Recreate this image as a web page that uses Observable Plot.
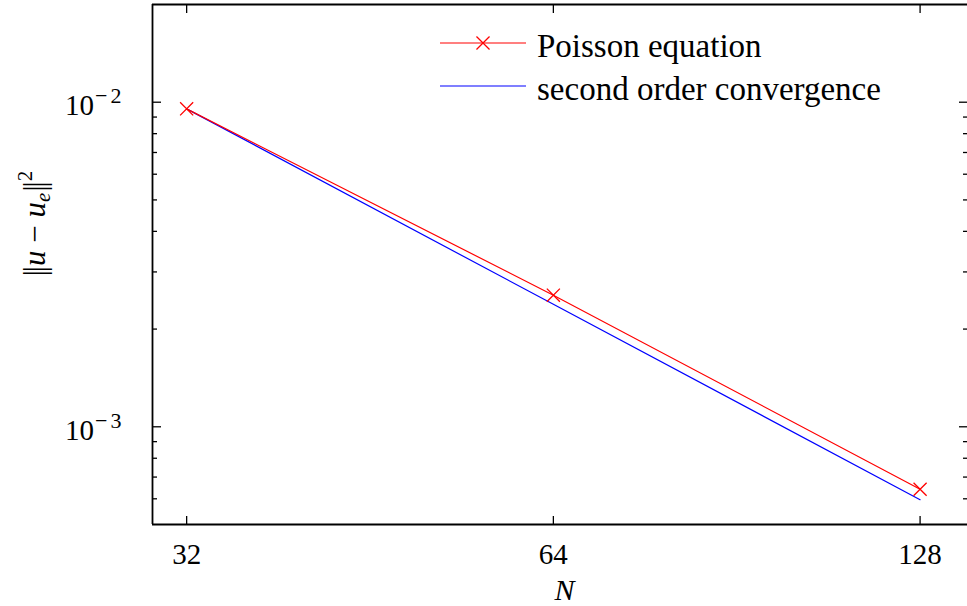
<!DOCTYPE html>
<html><head><meta charset="utf-8">
<script src="https://cdn.jsdelivr.net/npm/d3@7"></script>
<script src="https://cdn.jsdelivr.net/npm/@observablehq/plot@0.6"></script>
<style>body{margin:0;background:#fff} #chart svg{display:block}</style>
</head><body><div id="chart"></div>
<script>
const N = [32, 64, 128];
const poissonError = [0.00954, 0.002544, 0.000642];
const secondOrder = [0.00954, 0.002385, 0.000596];
const xTicks = [32, 64, 128];
const yMajorTicks = [1e-3, 1e-2];
const yMinorTicks = [6e-4, 7e-4, 8e-4, 9e-4, 2e-3, 3e-3, 4e-3, 5e-3, 6e-3, 7e-3, 8e-3, 9e-3];
const seriesNames = ["Poisson equation", "second order convergence"];
const seriesColors = ["#ff0000", "#0000ff"];
const xDomain = [30, 140];
const yDomain = [5e-4, 2e-2];

const poisson = N.map((n, i) => ({N: n, err: poissonError[i]}));
const second = N.map((n, i) => ({N: n, err: secondOrder[i]}));

const FONT = "'Liberation Serif', 'DejaVu Serif', serif";
const supFmt = d => "10^" + Math.round(Math.log10(d));

const plot = Plot.plot({
  width: 967, height: 606,
  marginLeft: 152, marginRight: 0, marginTop: 4, marginBottom: 82,
  style: {fontFamily: FONT, fontSize: "29px", color: "black", background: "white"},
  x: {type: "log", domain: xDomain},
  y: {type: "log", domain: yDomain},
  marks: [
    Plot.line(second, {x: "N", y: "err", stroke: seriesColors[1], strokeWidth: 1.2}),
    Plot.line(poisson, {x: "N", y: "err", stroke: seriesColors[0], strokeWidth: 1.2}),
    Plot.dot(poisson, {x: "N", y: "err", symbol: "times", r: 6, stroke: seriesColors[0], strokeWidth: 1.3}),
    // box (left, top, bottom)
    Plot.ruleX([xDomain[0]], {stroke: "black", strokeWidth: 1.8}),
    Plot.ruleY(yDomain, {stroke: "black", strokeWidth: 1.8}),
    // inward ticks
    Plot.axisX(xTicks, {anchor: "bottom", tickSize: -8, tickFormat: () => "", label: null, strokeWidth: 1.3}),
    Plot.axisX(xTicks, {anchor: "top", tickSize: -8, tickFormat: () => "", label: null, strokeWidth: 1.3}),
    Plot.axisY(yMajorTicks, {anchor: "left", tickSize: -9, tickFormat: () => "", label: null, strokeWidth: 1.3}),
    Plot.axisY(yMajorTicks, {anchor: "right", tickSize: -9, tickFormat: () => "", label: null, strokeWidth: 1.3}),
    Plot.axisY(yMinorTicks, {anchor: "left", tickSize: -5, tickFormat: () => "", label: null, strokeWidth: 1.3}),
    Plot.axisY(yMinorTicks, {anchor: "right", tickSize: -5, tickFormat: () => "", label: null, strokeWidth: 1.3}),
    // tick labels
    Plot.axisX(xTicks, {anchor: "bottom", tickSize: 0, tickPadding: 19, tickFormat: d => String(d), label: null, fontSize: 29}),
    Plot.axisY(yMajorTicks, {anchor: "left", tickSize: 0, tickPadding: 31, tickFormat: supFmt, label: null, fontSize: 29, dy: 4}),
    // x axis label
    Plot.text(["N"], {frameAnchor: "bottom", dy: 75, fontSize: 30, fontStyle: "italic", lineAnchor: "bottom", dx: 4.5})
  ]
});

const svg = d3.select(plot);
// superscript tick labels
svg.selectAll("text").filter(function() { return /^10\^-?\d+$/.test(this.textContent); }).each(function() {
  const exp = this.textContent.split("^")[1];
  const t = d3.select(this);
  t.text(null);
  t.append("tspan").text("10");
  t.append("tspan").attr("dy", -12).attr("dx", 1).attr("font-size", "22px").text("\u2212");
  t.append("tspan").attr("dx", 3).attr("font-size", "22px").text(exp.replace("-", ""));
});
// y axis label with math
const yl = svg.append("text")
  .attr("transform", "translate(45,223.5) rotate(-90)")
  .attr("text-anchor", "middle").attr("font-family", FONT).attr("font-size", "31px").attr("fill", "black");
yl.append("tspan").text("|");
yl.append("tspan").attr("dx", -2).text("|");
yl.append("tspan").attr("font-style", "italic").text("u");
yl.append("tspan").text(" \u2212 ");
yl.append("tspan").attr("font-style", "italic").text("u");
yl.append("tspan").attr("font-style", "italic").attr("font-size", "21px").attr("dy", 5).text("e");
yl.append("tspan").attr("dy", -5).attr("dx", 1).text("|");
yl.append("tspan").attr("dx", -2).text("|");
yl.append("tspan").attr("font-size", "21px").attr("dy", -13).text("2");
// legend
const lg = svg.append("g").attr("font-family", FONT).attr("font-size", "33px").attr("text-anchor", "start");
seriesNames.forEach((name, i) => {
  const y = 43 + i * 43;
  lg.append("line").attr("x1", 440).attr("x2", 526).attr("y1", y).attr("y2", y)
    .attr("stroke", seriesColors[i]).attr("stroke-width", 1.2);
  if (i === 0) {
    lg.append("path").attr("d", d3.symbol(d3.symbolTimes, Math.PI * 36)())
      .attr("transform", `translate(483,${y})`).attr("stroke", seriesColors[i]).attr("fill", "none").attr("stroke-width", 1.3);
  }
  lg.append("text").attr("x", 537).attr("y", y + 14).attr("fill", "black").text(name);
});
document.getElementById("chart").appendChild(plot);
</script>
</body></html>
